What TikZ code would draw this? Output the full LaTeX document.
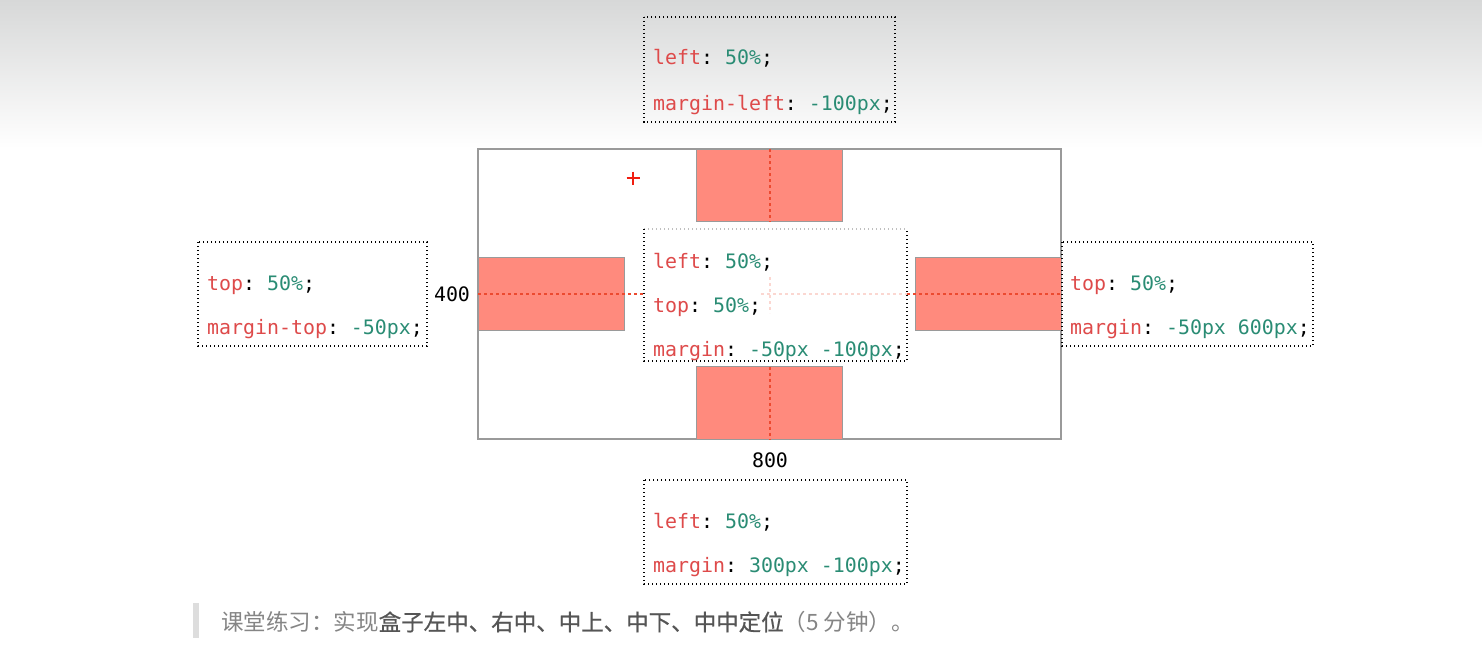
\documentclass[tikz,border=0pt]{standalone}
\usepackage{fontspec}
\setmonofont{DejaVu Sans Mono}
\newfontfamily\cjk{Noto Sans CJK SC}
\newfontfamily\cjkm{Noto Sans CJK SC}[FakeBold=0.7]
\usepackage{tikz}

\definecolor{clave}{HTML}{DE4A4A}
\definecolor{valor}{HTML}{2A8C74}
\definecolor{salmon}{HTML}{FF8A7D}
\definecolor{bordegris}{HTML}{9A9A9A}
\definecolor{guiarojo}{HTML}{EC4A30}
\definecolor{cursorrojo}{HTML}{F01E10}
\definecolor{fondogris}{HTML}{D7D8D8}
\definecolor{textogris}{HTML}{858585}
\definecolor{textoosc}{HTML}{555555}
\definecolor{barragris}{HTML}{DDDDDD}

\newcommand{\kv}[2]{\textcolor{clave}{#1}: \textcolor{valor}{#2};}

\begin{document}
\begin{tikzpicture}[x=1pt,y=-1pt,
    codigo/.style={anchor=west, inner sep=0pt, text height=14pt, text depth=0pt,
      font=\fontsize{19.9}{24}\ttfamily},
    caja/.style={draw=black, line width=1.2pt, dash pattern=on 1.4pt off 2.6pt},
    bloque/.style={fill=salmon, draw=bordegris, line width=1pt},
    guia/.style={draw=guiarojo, line width=1.2pt, dash pattern=on 3pt off 3pt}]
    \useasboundingbox (0,0) rectangle (1482,661);

    % Fondo
    \fill[white] (0,0) rectangle (1482,661);
    \shade[top color=fondogris, bottom color=white] (0,0) rectangle (1482,148);

    % Contenedor 800 x 400
    \draw[bordegris, line width=1.2pt] (478,149) rectangle (1061,439);

    % Cajas posicionadas
    \draw[bloque] (696.5,149) rectangle (842.5,221.5);
    \draw[bloque] (696.5,366.5) rectangle (842.5,439);
    \draw[bloque] (478,257.5) rectangle (624,330.5);
    \draw[bloque] (915,257.5) rectangle (1061,330.5);

    % Lineas guia
    \draw[guia] (770,149) -- (770,222);
    \draw[guia] (770,366.5) -- (770,439);
    \draw[guia] (478,294) -- (645,294);
    \draw[guia] (907,294) -- (1061,294);

    % Cursor
    \draw[cursorrojo, line width=2.8pt] (626.5,178) -- (639.5,178) (633,171.5) -- (633,184.5);

    % Caja central
    \fill[white] (644,229) rectangle (907,361);
    \draw[guia, guiarojo!22] (761,294) -- (907,294);
    \draw[guia, guiarojo!22] (770,277) -- (770,313);
    \draw[caja, draw=black!25] (644,229) -- (907,229);
    \draw[caja] (644,229) -- (644,361) -- (907,361) -- (907,229);
    \node[codigo] (centro1) at (653,261) {\kv{left}{50\%}};
    \node[codigo] (centro2) at (653,305) {\kv{top}{50\%}};
    \node[codigo] (centro3) at (653,349) {\kv{margin}{-50px -100px}};

    % Caja superior
    \draw[caja] (644,17) rectangle (895,122);
    \node[codigo] (arriba1) at (653,58) {\kv{left}{50\%}};
    \node[codigo] (arriba2) at (653,103) {\kv{margin-left}{-100px}};

    % Caja izquierda
    \draw[caja] (198,242) rectangle (427,346);
    \node[codigo] (izq1) at (207,283) {\kv{top}{50\%}};
    \node[codigo] (izq2) at (207,327) {\kv{margin-top}{-50px}};

    % Caja derecha
    \draw[caja] (1062,242) rectangle (1313,346);
    \node[codigo] (der1) at (1070,283) {\kv{top}{50\%}};
    \node[codigo] (der2) at (1070,327) {\kv{margin}{-50px 600px}};

    % Caja inferior
    \draw[caja] (644,480) rectangle (907,584);
    \node[codigo] (abajo1) at (653,521) {\kv{left}{50\%}};
    \node[codigo] (abajo2) at (653,565) {\kv{margin}{300px -100px}};

    % Medidas
    \node[codigo, anchor=center] (alto) at (452,294) {400};
    \node[codigo, anchor=center] (ancho) at (770,460) {800};

    % Ejercicio
    \fill[barragris] (193,603) rectangle (199,638);
    \node[anchor=west, inner sep=0pt, font=\fontsize{22.5}{24}\cjk] (ejercicio) at (221,622)
      {\textcolor{textogris}{课堂练习：实现}\textcolor{textoosc}{\cjkm 盒子左中、右中、中上、中下、中中定位}\textcolor{textogris}{（5 分钟）。}};
\end{tikzpicture}
\end{document}
